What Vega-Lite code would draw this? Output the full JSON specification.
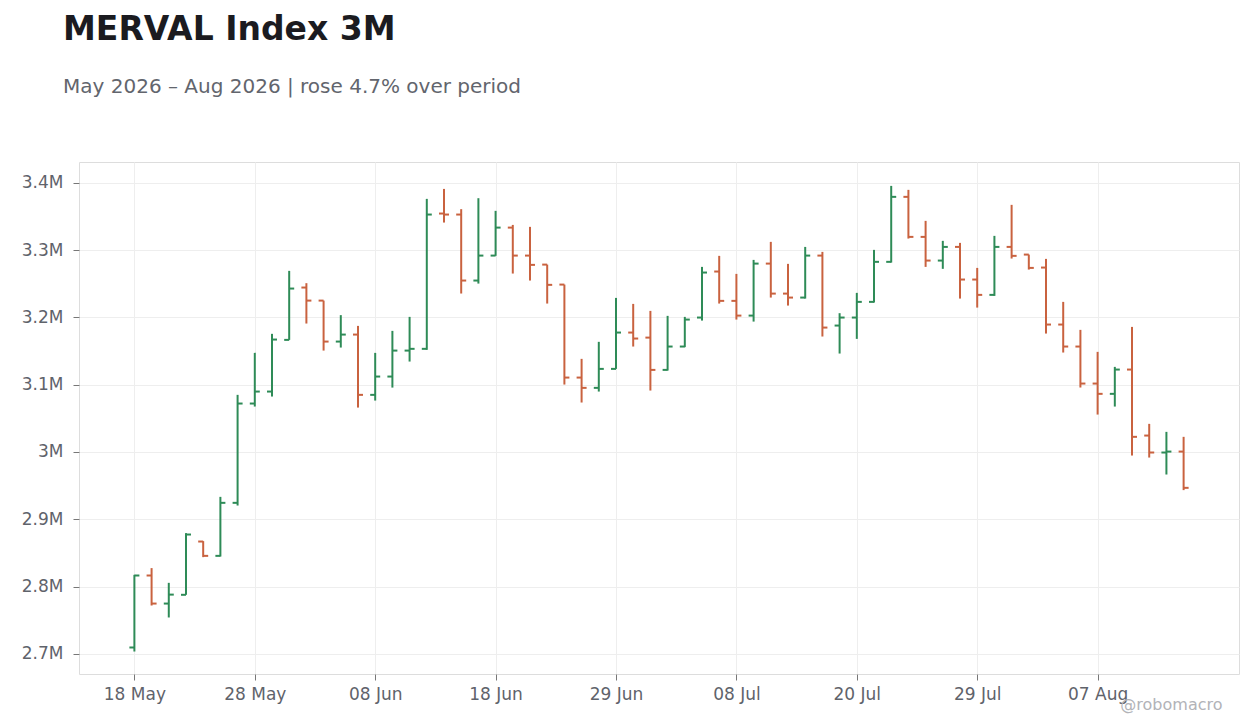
{
  "$schema": "https://vega.github.io/schema/vega-lite/v6.json",
  "width": 1160,
  "height": 512,
  "autosize": {"type": "none"},
  "padding": {"left": 79, "top": 162, "right": 21, "bottom": 54},
  "background": "white",
  "title": {
    "text": "MERVAL Index 3M",
    "subtitle": "May 2026 – Aug 2026 | rose 4.7% over period",
    "anchor": "start",
    "frame": "group",
    "dx": -16,
    "offset": 65,
    "font": "DejaVu Sans",
    "fontSize": 33,
    "fontWeight": "bold",
    "color": "#1b1b20",
    "subtitleFont": "DejaVu Sans",
    "subtitleFontSize": 20,
    "subtitleColor": "#62656d",
    "subtitlePadding": 30
  },
  "config": {
    "view": {"stroke": "#dddddd", "strokeWidth": 1},
    "axis": {
      "labelFont": "DejaVu Sans",
      "labelFontSize": 17,
      "labelColor": "#5f636b",
      "gridColor": "#eeeeee",
      "tickColor": "#777777",
      "tickSize": 6,
      "domain": false
    }
  },
  "data": {
    "values": [
      {"date": "2026-05-18", "open": 2709400, "high": 2817400, "low": 2703400, "close": 2816400},
      {"date": "2026-05-19", "open": 2816400, "high": 2827400, "low": 2771800, "close": 2774700},
      {"date": "2026-05-20", "open": 2774700, "high": 2805500, "low": 2754000, "close": 2788000},
      {"date": "2026-05-21", "open": 2787700, "high": 2879400, "low": 2787700, "close": 2877300},
      {"date": "2026-05-22", "open": 2866900, "high": 2867500, "low": 2843700, "close": 2845600},
      {"date": "2026-05-26", "open": 2845600, "high": 2933300, "low": 2844600, "close": 2924400},
      {"date": "2026-05-27", "open": 2924400, "high": 3084900, "low": 2920400, "close": 3072000},
      {"date": "2026-05-28", "open": 3072000, "high": 3147300, "low": 3067500, "close": 3089800},
      {"date": "2026-05-29", "open": 3089800, "high": 3175600, "low": 3082400, "close": 3167100},
      {"date": "2026-06-01", "open": 3166600, "high": 3269200, "low": 3166600, "close": 3242900},
      {"date": "2026-06-02", "open": 3244400, "high": 3250900, "low": 3190900, "close": 3225000},
      {"date": "2026-06-03", "open": 3225000, "high": 3225000, "low": 3150700, "close": 3164100},
      {"date": "2026-06-04", "open": 3164100, "high": 3203400, "low": 3155200, "close": 3174500},
      {"date": "2026-06-05", "open": 3174500, "high": 3187400, "low": 3066000, "close": 3084900},
      {"date": "2026-06-08", "open": 3084900, "high": 3147300, "low": 3076400, "close": 3112100},
      {"date": "2026-06-09", "open": 3112100, "high": 3180000, "low": 3095700, "close": 3150700},
      {"date": "2026-06-10", "open": 3150700, "high": 3200800, "low": 3134400, "close": 3153300},
      {"date": "2026-06-11", "open": 3153300, "high": 3376200, "low": 3151800, "close": 3352900},
      {"date": "2026-06-12", "open": 3354400, "high": 3391000, "low": 3341000, "close": 3352900},
      {"date": "2026-06-16", "open": 3352900, "high": 3360900, "low": 3235500, "close": 3254800},
      {"date": "2026-06-17", "open": 3254800, "high": 3377200, "low": 3250300, "close": 3291900},
      {"date": "2026-06-18", "open": 3291900, "high": 3358400, "low": 3291500, "close": 3333500},
      {"date": "2026-06-19", "open": 3333500, "high": 3337500, "low": 3265200, "close": 3291900},
      {"date": "2026-06-22", "open": 3291900, "high": 3334600, "low": 3254800, "close": 3278100},
      {"date": "2026-06-23", "open": 3278500, "high": 3278500, "low": 3220600, "close": 3248400},
      {"date": "2026-06-24", "open": 3248800, "high": 3248800, "low": 3100200, "close": 3110600},
      {"date": "2026-06-25", "open": 3110600, "high": 3138400, "low": 3073500, "close": 3095300},
      {"date": "2026-06-26", "open": 3095300, "high": 3163700, "low": 3089800, "close": 3123500},
      {"date": "2026-06-29", "open": 3123500, "high": 3229000, "low": 3123500, "close": 3177500},
      {"date": "2026-06-30", "open": 3177500, "high": 3220100, "low": 3156700, "close": 3168600},
      {"date": "2026-07-01", "open": 3170000, "high": 3209700, "low": 3091300, "close": 3122000},
      {"date": "2026-07-02", "open": 3122000, "high": 3202300, "low": 3121000, "close": 3156700},
      {"date": "2026-07-03", "open": 3156700, "high": 3200800, "low": 3155800, "close": 3196800},
      {"date": "2026-07-06", "open": 3199800, "high": 3275100, "low": 3195300, "close": 3266700},
      {"date": "2026-07-07", "open": 3268200, "high": 3291500, "low": 3220600, "close": 3224600},
      {"date": "2026-07-08", "open": 3224600, "high": 3264700, "low": 3196800, "close": 3202700},
      {"date": "2026-07-10", "open": 3202700, "high": 3285500, "low": 3193800, "close": 3280000},
      {"date": "2026-07-13", "open": 3280000, "high": 3312300, "low": 3229500, "close": 3235400},
      {"date": "2026-07-14", "open": 3235400, "high": 3279600, "low": 3217600, "close": 3229500},
      {"date": "2026-07-15", "open": 3229500, "high": 3304800, "low": 3228000, "close": 3291900},
      {"date": "2026-07-16", "open": 3291900, "high": 3297400, "low": 3171600, "close": 3184900},
      {"date": "2026-07-17", "open": 3187900, "high": 3206300, "low": 3146300, "close": 3199800},
      {"date": "2026-07-20", "open": 3199800, "high": 3236500, "low": 3168100, "close": 3223100},
      {"date": "2026-07-21", "open": 3223100, "high": 3300400, "low": 3222100, "close": 3282600},
      {"date": "2026-07-22", "open": 3282600, "high": 3395500, "low": 3281500, "close": 3379200},
      {"date": "2026-07-23", "open": 3379200, "high": 3389600, "low": 3317200, "close": 3319700},
      {"date": "2026-07-24", "open": 3319700, "high": 3343500, "low": 3275100, "close": 3284500},
      {"date": "2026-07-27", "open": 3284500, "high": 3313800, "low": 3272200, "close": 3304800},
      {"date": "2026-07-28", "open": 3304800, "high": 3310800, "low": 3228000, "close": 3256300},
      {"date": "2026-07-29", "open": 3256300, "high": 3273600, "low": 3214600, "close": 3233500},
      {"date": "2026-07-30", "open": 3233500, "high": 3321200, "low": 3232000, "close": 3304800},
      {"date": "2026-07-31", "open": 3304800, "high": 3367300, "low": 3287500, "close": 3291500},
      {"date": "2026-08-03", "open": 3293400, "high": 3293400, "low": 3271100, "close": 3273600},
      {"date": "2026-08-04", "open": 3274100, "high": 3287000, "low": 3176000, "close": 3189400},
      {"date": "2026-08-05", "open": 3189400, "high": 3223100, "low": 3147800, "close": 3156700},
      {"date": "2026-08-06", "open": 3156700, "high": 3181500, "low": 3095800, "close": 3101700},
      {"date": "2026-08-07", "open": 3101700, "high": 3148800, "low": 3055600, "close": 3086400},
      {"date": "2026-08-10", "open": 3086400, "high": 3126500, "low": 3067500, "close": 3122500},
      {"date": "2026-08-11", "open": 3122500, "high": 3185900, "low": 2994700, "close": 3022500},
      {"date": "2026-08-12", "open": 3024400, "high": 3041800, "low": 2991700, "close": 2999200},
      {"date": "2026-08-13", "open": 2999200, "high": 3029900, "low": 2966500, "close": 3000600},
      {"date": "2026-08-14", "open": 3000600, "high": 3022500, "low": 2943300, "close": 2946700}
    ]
  },
  "encoding": {
    "x": {
      "field": "date",
      "type": "ordinal",
      "scale": {
        "type": "point",
        "padding": 0.22,
        "domain": [
          "2026-05-13", "2026-05-14", "2026-05-15",
          "2026-05-18", "2026-05-19", "2026-05-20", "2026-05-21", "2026-05-22", "2026-05-26", "2026-05-27", "2026-05-28", "2026-05-29",
          "2026-06-01", "2026-06-02", "2026-06-03", "2026-06-04", "2026-06-05", "2026-06-08", "2026-06-09", "2026-06-10", "2026-06-11", "2026-06-12",
          "2026-06-16", "2026-06-17", "2026-06-18", "2026-06-19", "2026-06-22", "2026-06-23", "2026-06-24", "2026-06-25", "2026-06-26", "2026-06-29", "2026-06-30",
          "2026-07-01", "2026-07-02", "2026-07-03", "2026-07-06", "2026-07-07", "2026-07-08", "2026-07-10", "2026-07-13", "2026-07-14", "2026-07-15", "2026-07-16", "2026-07-17",
          "2026-07-20", "2026-07-21", "2026-07-22", "2026-07-23", "2026-07-24", "2026-07-27", "2026-07-28", "2026-07-29", "2026-07-30", "2026-07-31",
          "2026-08-03", "2026-08-04", "2026-08-05", "2026-08-06", "2026-08-07", "2026-08-10", "2026-08-11", "2026-08-12", "2026-08-13", "2026-08-14",
          "2026-08-18", "2026-08-19", "2026-08-20"
        ]
      },
      "axis": {
        "values": ["2026-05-18", "2026-05-28", "2026-06-08", "2026-06-18", "2026-06-29", "2026-07-08", "2026-07-20", "2026-07-29", "2026-08-07"],
        "labelExpr": "utcFormat(toDate(datum.value), '%d %b')",
        "labelAngle": 0,
        "labelPadding": 6,
        "grid": true,
        "title": "@robomacro",
        "titleFont": "DejaVu Sans",
        "titleFontSize": 16,
        "titleFontWeight": "normal",
        "titleColor": "#b2b3b8",
        "titleAlign": "right",
        "titleBaseline": "alphabetic",
        "titleX": 1143,
        "titleY": 35
      }
    },
    "color": {
      "condition": {"test": "datum.close >= datum.open", "value": "#2e8b57"},
      "value": "#c9623f"
    }
  },
  "layer": [
    {
      "mark": {"type": "rule", "strokeWidth": 2},
      "encoding": {
        "y": {
          "field": "low",
          "type": "quantitative",
          "scale": {"domain": [2670000, 3431000], "nice": false, "zero": false},
          "axis": {
            "values": [2700000, 2800000, 2900000, 3000000, 3100000, 3200000, 3300000, 3400000],
            "format": "~s",
            "labelPadding": 10,
            "title": null
          }
        },
        "y2": {"field": "high"}
      }
    },
    {
      "mark": {"type": "tick", "size": 5, "thickness": 2, "xOffset": -2.5, "opacity": 1},
      "encoding": {"y": {"field": "open", "type": "quantitative"}}
    },
    {
      "mark": {"type": "tick", "size": 5, "thickness": 2, "xOffset": 2.5, "opacity": 1},
      "encoding": {"y": {"field": "close", "type": "quantitative"}}
    }
  ]
}
